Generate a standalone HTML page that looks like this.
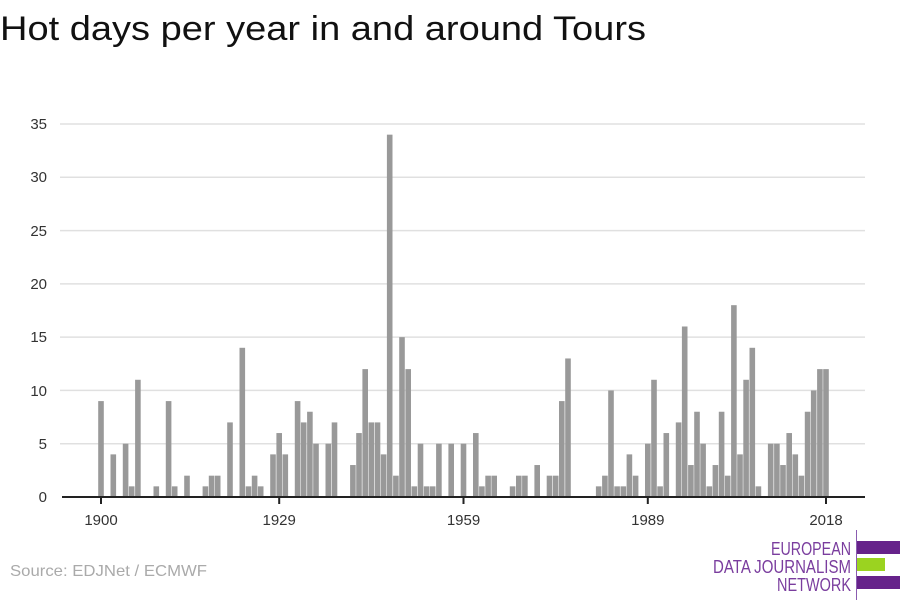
<!DOCTYPE html>
<html><head><meta charset="utf-8"><style>
html,body{margin:0;padding:0;background:#fff;}
svg{display:block;font-family:"Liberation Sans",sans-serif;}
</style></head><body>
<svg width="900" height="600" viewBox="0 0 900 600" xmlns="http://www.w3.org/2000/svg">
<text x="0" y="40" font-size="34" fill="#111" textLength="646" lengthAdjust="spacingAndGlyphs">Hot days per year in and around Tours</text>
<g stroke="#e0e0e0" stroke-width="1.5">
<line x1="60" x2="865" y1="124" y2="124"/><line x1="60" x2="865" y1="177.3" y2="177.3"/>
<line x1="60" x2="865" y1="230.6" y2="230.6"/><line x1="60" x2="865" y1="283.9" y2="283.9"/>
<line x1="60" x2="865" y1="337.1" y2="337.1"/><line x1="60" x2="865" y1="390.4" y2="390.4"/>
<line x1="60" x2="865" y1="443.7" y2="443.7"/>
</g>
<g font-size="15" fill="#333" text-anchor="end">
<text x="47" y="129">35</text><text x="47" y="182">30</text><text x="47" y="236">25</text>
<text x="47" y="289">20</text><text x="47" y="342">15</text><text x="47" y="396">10</text>
<text x="47" y="449">5</text><text x="47" y="502">0</text>
</g>
<g transform="translate(0,497) scale(1,-10.657)" fill="#999">
<rect x="98.2" width="5.6" y="0" height="9"/><rect x="110.5" width="5.6" y="0" height="4"/>
<rect x="122.8" width="5.6" y="0" height="5"/><rect x="128.9" width="5.6" y="0" height="1"/>
<rect x="135.1" width="5.6" y="0" height="11"/><rect x="153.5" width="5.6" y="0" height="1"/>
<rect x="165.8" width="5.6" y="0" height="9"/><rect x="171.9" width="5.6" y="0" height="1"/>
<rect x="184.2" width="5.6" y="0" height="2"/><rect x="202.6" width="5.6" y="0" height="1"/>
<rect x="208.8" width="5.6" y="0" height="2"/><rect x="214.9" width="5.6" y="0" height="2"/>
<rect x="227.2" width="5.6" y="0" height="7"/><rect x="239.5" width="5.6" y="0" height="14"/>
<rect x="245.7" width="5.6" y="0" height="1"/><rect x="251.8" width="5.6" y="0" height="2"/>
<rect x="257.9" width="5.6" y="0" height="1"/><rect x="270.2" width="5.6" y="0" height="4"/>
<rect x="276.4" width="5.6" y="0" height="6"/><rect x="282.5" width="5.6" y="0" height="4"/>
<rect x="294.8" width="5.6" y="0" height="9"/><rect x="300.9" width="5.6" y="0" height="7"/>
<rect x="307.1" width="5.6" y="0" height="8"/><rect x="313.2" width="5.6" y="0" height="5"/>
<rect x="325.5" width="5.6" y="0" height="5"/><rect x="331.7" width="5.6" y="0" height="7"/>
<rect x="350.1" width="5.6" y="0" height="3"/><rect x="356.2" width="5.6" y="0" height="6"/>
<rect x="362.4" width="5.6" y="0" height="12"/><rect x="368.5" width="5.6" y="0" height="7"/>
<rect x="374.7" width="5.6" y="0" height="7"/><rect x="380.8" width="5.6" y="0" height="4"/>
<rect x="386.9" width="5.6" y="0" height="34"/><rect x="393.1" width="5.6" y="0" height="2"/>
<rect x="399.2" width="5.6" y="0" height="15"/><rect x="405.4" width="5.6" y="0" height="12"/>
<rect x="411.5" width="5.6" y="0" height="1"/><rect x="417.7" width="5.6" y="0" height="5"/>
<rect x="423.8" width="5.6" y="0" height="1"/><rect x="429.9" width="5.6" y="0" height="1"/>
<rect x="436.1" width="5.6" y="0" height="5"/><rect x="448.4" width="5.6" y="0" height="5"/>
<rect x="460.7" width="5.6" y="0" height="5"/><rect x="473.0" width="5.6" y="0" height="6"/>
<rect x="479.1" width="5.6" y="0" height="1"/><rect x="485.3" width="5.6" y="0" height="2"/>
<rect x="491.4" width="5.6" y="0" height="2"/><rect x="509.8" width="5.6" y="0" height="1"/>
<rect x="516.0" width="5.6" y="0" height="2"/><rect x="522.1" width="5.6" y="0" height="2"/>
<rect x="534.4" width="5.6" y="0" height="3"/><rect x="546.7" width="5.6" y="0" height="2"/>
<rect x="552.9" width="5.6" y="0" height="2"/><rect x="559.0" width="5.6" y="0" height="9"/>
<rect x="565.2" width="5.6" y="0" height="13"/><rect x="595.9" width="5.6" y="0" height="1"/>
<rect x="602.1" width="5.6" y="0" height="2"/><rect x="608.2" width="5.6" y="0" height="10"/>
<rect x="614.3" width="5.6" y="0" height="1"/><rect x="620.5" width="5.6" y="0" height="1"/>
<rect x="626.6" width="5.6" y="0" height="4"/><rect x="632.8" width="5.6" y="0" height="2"/>
<rect x="645.0" width="5.6" y="0" height="5"/><rect x="651.2" width="5.6" y="0" height="11"/>
<rect x="657.3" width="5.6" y="0" height="1"/><rect x="663.5" width="5.6" y="0" height="6"/>
<rect x="675.8" width="5.6" y="0" height="7"/><rect x="681.9" width="5.6" y="0" height="16"/>
<rect x="688.1" width="5.6" y="0" height="3"/><rect x="694.2" width="5.6" y="0" height="8"/>
<rect x="700.3" width="5.6" y="0" height="5"/><rect x="706.5" width="5.6" y="0" height="1"/>
<rect x="712.6" width="5.6" y="0" height="3"/><rect x="718.8" width="5.6" y="0" height="8"/>
<rect x="724.9" width="5.6" y="0" height="2"/><rect x="731.1" width="5.6" y="0" height="18"/>
<rect x="737.2" width="5.6" y="0" height="4"/><rect x="743.3" width="5.6" y="0" height="11"/>
<rect x="749.5" width="5.6" y="0" height="14"/><rect x="755.6" width="5.6" y="0" height="1"/>
<rect x="767.9" width="5.6" y="0" height="5"/><rect x="774.1" width="5.6" y="0" height="5"/>
<rect x="780.2" width="5.6" y="0" height="3"/><rect x="786.4" width="5.6" y="0" height="6"/>
<rect x="792.5" width="5.6" y="0" height="4"/><rect x="798.6" width="5.6" y="0" height="2"/>
<rect x="804.8" width="5.6" y="0" height="8"/><rect x="810.9" width="5.6" y="0" height="10"/>
<rect x="817.1" width="5.6" y="0" height="12"/><rect x="823.2" width="5.6" y="0" height="12"/>
</g>
<line x1="62" x2="865" y1="497" y2="497" stroke="#222" stroke-width="2"/>
<g stroke="#222" stroke-width="2">
<line x1="101" x2="101" y1="497" y2="504"/><line x1="279.2" x2="279.2" y1="497" y2="504"/>
<line x1="463.5" x2="463.5" y1="497" y2="504"/><line x1="647.8" x2="647.8" y1="497" y2="504"/>
<line x1="826" x2="826" y1="497" y2="504"/>
</g>
<g font-size="15" fill="#333" text-anchor="middle">
<text x="101" y="525">1900</text><text x="279.2" y="525">1929</text>
<text x="463.5" y="525">1959</text><text x="647.8" y="525">1989</text>
<text x="826" y="525">2018</text>
</g>
<text x="10" y="576" font-size="16" fill="#aaa" textLength="197" lengthAdjust="spacingAndGlyphs">Source: EDJNet / ECMWF</text>
<line x1="856.5" x2="856.5" y1="530" y2="600" stroke="#8a5cb0" stroke-width="1"/>
<rect x="857" y="541" width="43" height="13" fill="#66228a"/>
<rect x="857" y="558" width="28" height="13" fill="#9bd320"/>
<rect x="857" y="576" width="43" height="13" fill="#66228a"/>
<g font-size="18" fill="#7a3d9e" text-anchor="end">
<text x="851" y="555" textLength="80" lengthAdjust="spacingAndGlyphs">EUROPEAN</text>
<text x="851" y="573" textLength="138" lengthAdjust="spacingAndGlyphs">DATA JOURNALISM</text>
<text x="851" y="591" textLength="74" lengthAdjust="spacingAndGlyphs">NETWORK</text>
</g>
</svg>
</body></html>
